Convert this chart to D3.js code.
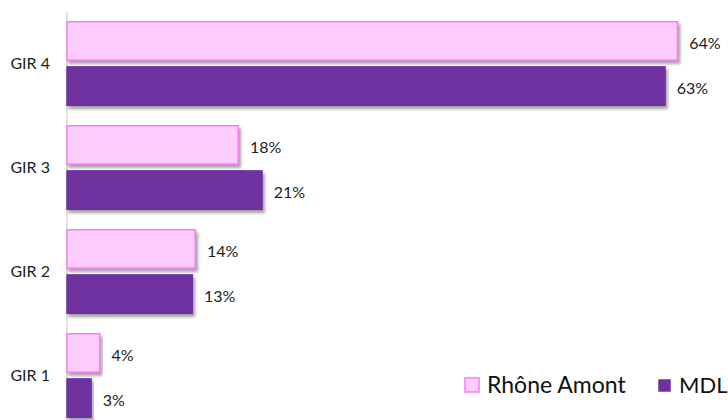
<!DOCTYPE html>
<html>
<head>
<meta charset="utf-8">
<script src="https://cdn.jsdelivr.net/npm/d3@7"></script>
<style>
  body { margin: 0; background: #fff; }
  svg { display: block; font-family: Lato, "Open Sans", sans-serif; }
</style>
</head>
<body>
<svg class="chart"></svg>
<script>
var categories = ["GIR 4", "GIR 3", "GIR 2", "GIR 1"];
var seriesNames = ["Rhône Amont", "MDL"];
var rhoneAmont = [64.0, 18.0, 13.5, 3.5];
var mdl = [62.7, 20.5, 13.2, 2.6];

var width = 728;
var height = 420;

var svg = d3.select(".chart")
    .attr("width", width)
    .attr("height", height);

// soft shadow under every bar
var shadow = svg.append("defs").append("filter")
    .attr("id", "shadow")
    .attr("x", "-5%").attr("y", "-20%")
    .attr("width", "115%").attr("height", "160%");
shadow.append("feDropShadow")
    .attr("dx", 2)
    .attr("dy", 3)
    .attr("stdDeviation", 1.6)
    .attr("flood-color", "#555")
    .attr("flood-opacity", 0.55);

var x = d3.scaleLinear()
    .domain([0, 100])
    .range([67, 67 + 955]);

var y = d3.scaleBand()
    .domain(categories)
    .range([21, 418])
    .paddingInner(0.183)
    .paddingOuter(0);

var ySub = d3.scaleBand()
    .domain(seriesNames)
    .range([0, y.bandwidth()])
    .paddingInner(0.118);

var fill = d3.scaleOrdinal().domain(seriesNames).range(["#ffccff", "#7030a0"]);
var stroke = d3.scaleOrdinal().domain(seriesNames).range(["#f57ff5", "#7030a0"]);

var rows = categories.map(function(c, i) {
  return {
    cat: c,
    values: [
      { name: seriesNames[0], value: rhoneAmont[i] },
      { name: seriesNames[1], value: mdl[i] }
    ]
  };
});

// vertical axis line
svg.append("line")
    .attr("x1", x(0)).attr("x2", x(0))
    .attr("y1", 12).attr("y2", height)
    .attr("stroke", "#d9d9d9")
    .attr("stroke-width", 1.5);

var groups = svg.selectAll(".group").data(rows);

var g = groups.enter().append("g")
    .attr("class", "group")
    .attr("transform", function(d) { return "translate(0," + y(d.cat) + ")"; });

g.selectAll(".bar").data(function(d) { return d.values; })
  .enter().append("rect")
    .attr("class", "bar")
    .attr("x", x(0))
    .attr("y", function(d) { return ySub(d.name) + 0.75; })
    .attr("width", function(d) { return x(d.value) - x(0) - 0.75; })
    .attr("height", ySub.bandwidth() - 1.5)
    .attr("fill", function(d) { return fill(d.name); })
    .attr("stroke", function(d) { return stroke(d.name); })
    .attr("stroke-width", 1.5)
    .attr("filter", "url(#shadow)");

g.selectAll(".value").data(function(d) { return d.values; })
  .enter().append("text")
    .attr("class", "value")
    .attr("x", function(d) { return x(d.value) + 11; })
    .attr("y", function(d) { return ySub(d.name) + ySub.bandwidth() / 2 + 2; })
    .attr("dy", "0.35em")
    .attr("font-size", 16)
    .attr("fill", "#222")
    .text(function(d) { return Math.round(d.value) + "%"; });

g.append("text")
    .attr("class", "cat")
    .attr("x", 50)
    .attr("y", y.bandwidth() / 2)
    .attr("dy", "0.35em")
    .attr("text-anchor", "end")
    .attr("font-size", 16)
    .attr("fill", "#222")
    .text(function(d) { return d.cat; });

// legend
var legendX = [465, 659];
var legend = svg.selectAll(".legend").data(seriesNames)
  .enter().append("g")
    .attr("class", "legend")
    .attr("transform", function(d, i) { return "translate(" + legendX[i] + ",378)"; });

legend.append("rect")
    .attr("width", function(d, i) { return i === 0 ? 14 : 11; })
    .attr("height", function(d, i) { return i === 0 ? 14 : 11; })
    .attr("y", function(d, i) { return i === 0 ? 0 : 2; })
    .attr("fill", function(d) { return fill(d); })
    .attr("stroke", function(d) { return stroke(d); })
    .attr("stroke-width", 1.5);

legend.append("text")
    .attr("x", function(d, i) { return i === 0 ? 22 : 20; })
    .attr("y", 7)
    .attr("dy", "0.35em")
    .attr("font-size", function(d, i) { return i === 0 ? 23 : 22; })
    .attr("fill", "#111")
    .text(function(d) { return d; });
</script>
</body>
</html>
